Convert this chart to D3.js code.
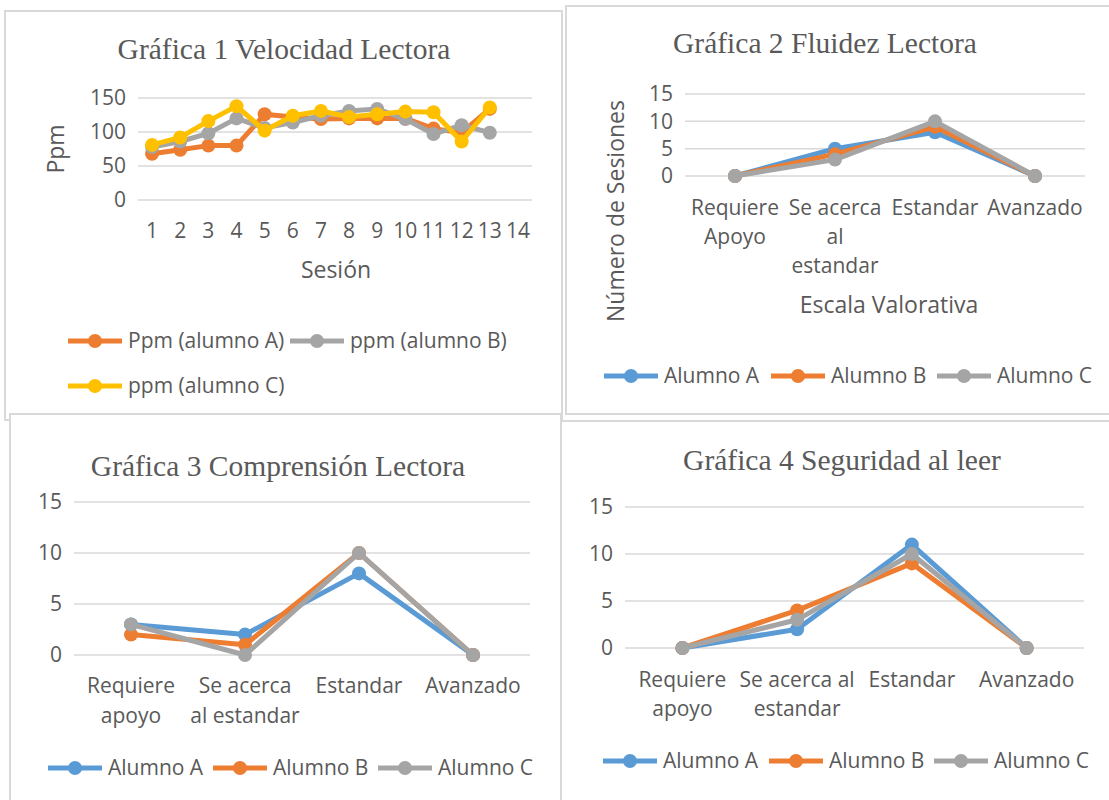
<!DOCTYPE html>
<html lang="es">
<head>
<meta charset="UTF-8">
<script src="https://cdn.jsdelivr.net/npm/d3@7"></script>
<style>
  body { margin: 0; background: #fff; }
  text { font-family: "Open Sans", "Liberation Sans", sans-serif; fill: #595959; }
  .title { font-family: "Liberation Serif", "Times New Roman", serif; }
</style>
</head>
<body>
<script>

// Gráfica 1 data
var sesiones = ["1","2","3","4","5","6","7","8","9","10","11","12","13","14"];
var ppmA = [68, 74, 80, 80, 126, 122, 119, 120, 120, 120, 105, 99, 134];
var ppmB = [78, 86, 98, 120, 106, 114, 124, 131, 134, 119, 97, 110, 99];
var ppmC = [81, 92, 116, 138, 102, 124, 131, 122, 126, 130, 129, 86, 136];
var g1Ticks = [0, 50, 100, 150];

// Gráfica 2 data
var escala2 = [["Requiere", "Apoyo"], ["Se acerca", "al", "estandar"], ["Estandar"], ["Avanzado"]];
var fluidezA = [0, 5, 8, 0];
var fluidezB = [0, 4, 9, 0];
var fluidezC = [0, 3, 10, 0];

// Gráfica 3 data
var escala3 = [["Requiere", "apoyo"], ["Se acerca", "al estandar"], ["Estandar"], ["Avanzado"]];
var comprensionA = [3, 2, 8, 0];
var comprensionB = [2, 1, 10, 0];
var comprensionC = [3, 0, 10, 0];

// Gráfica 4 data
var escala4 = [["Requiere", "apoyo"], ["Se acerca al", "estandar"], ["Estandar"], ["Avanzado"]];
var seguridadA = [0, 2, 11, 0];
var seguridadB = [0, 4, 9, 0];
var seguridadC = [0, 3, 10, 0];
var escalaTicks = [0, 5, 10, 15];

var colors = { A: "#5B9BD5", B: "#ED7D31", C: "#A5A5A5", Y: "#FFC000" };

var svg = d3.select("body").append("svg")
    .attr("width", 1109)
    .attr("height", 800);

svg.append("rect").attr("width", 1109).attr("height", 800).attr("fill", "#fff");

function box(x, y, w, h) {
    svg.append("rect")
        .attr("x", x).attr("y", y)
        .attr("width", w).attr("height", h)
        .attr("fill", "#fff")
        .attr("stroke", "#d9d9d9")
        .attr("stroke-width", 2);
}

function drawChart(opt) {
    var g = svg.append("g");

    var x = d3.scaleBand()
        .domain(d3.range(opt.categories.length))
        .range([opt.left, opt.right]);

    var y = d3.scaleLinear()
        .domain([0, opt.ticks[opt.ticks.length - 1]])
        .range([opt.bottom, opt.top]);

    g.append("text")
        .attr("class", "title")
        .attr("x", opt.titleX).attr("y", opt.titleY)
        .attr("text-anchor", "middle")
        .attr("font-size", 29.5)
        .text(opt.title);

    // grid
    g.selectAll(".grid")
        .data(opt.ticks)
        .enter().append("line")
        .attr("x1", opt.left).attr("x2", opt.right)
        .attr("y1", function (d) { return y(d); })
        .attr("y2", function (d) { return y(d); })
        .attr("stroke", "#d9d9d9")
        .attr("stroke-width", 1.5);

    var yAxis = d3.axisLeft(y).tickValues(opt.ticks).tickSize(0).tickPadding(12);
    var ya = g.append("g").attr("transform", "translate(" + opt.left + ",0)").call(yAxis);
    ya.select(".domain").remove();
    ya.selectAll("text").attr("font-size", 21).attr("fill", "#595959")
        .attr("font-family", "'Open Sans', sans-serif");

    // category labels
    var cat = g.selectAll(".cat")
        .data(opt.categories)
        .enter().append("text")
        .attr("text-anchor", "middle")
        .attr("font-size", 21)
        .attr("x", function (d, i) { return x(i) + x.bandwidth() / 2; })
        .attr("y", opt.bottom + opt.catOffset);
    cat.each(function (d) {
        var t = d3.select(this);
        [].concat(d).forEach(function (line, j) {
            t.append("tspan")
                .attr("x", t.attr("x"))
                .attr("dy", j === 0 ? 0 : opt.lineH)
                .text(line);
        });
    });

    if (opt.yTitle) {
        g.append("text")
            .attr("transform", "translate(" + opt.yTitle.x + "," + opt.yTitle.y + ") rotate(-90)")
            .attr("text-anchor", "middle")
            .attr("font-size", 23)
            .text(opt.yTitle.text);
    }
    if (opt.xTitle) {
        g.append("text")
            .attr("x", opt.xTitle.x).attr("y", opt.xTitle.y)
            .attr("text-anchor", "middle")
            .attr("font-size", 23)
            .text(opt.xTitle.text);
    }

    var line = d3.line()
        .x(function (d, i) { return x(i) + x.bandwidth() / 2; })
        .y(function (d) { return y(d); });

    opt.series.forEach(function (s) {
        g.append("path")
            .datum(s.values)
            .attr("d", line)
            .attr("fill", "none")
            .attr("stroke", s.color)
            .attr("stroke-width", 5)
            .attr("stroke-linejoin", "round");
        g.selectAll(null)
            .data(s.values)
            .enter().append("circle")
            .attr("cx", function (d, i) { return x(i) + x.bandwidth() / 2; })
            .attr("cy", function (d) { return y(d); })
            .attr("r", 7)
            .attr("fill", s.color);
    });

    // legend
    opt.series.forEach(function (s, i) {
        var pos = opt.legend[i];
        var lg = g.append("g").attr("transform", "translate(" + pos[0] + "," + pos[1] + ")");
        lg.append("line")
            .attr("x1", 0).attr("x2", 54)
            .attr("stroke", s.color).attr("stroke-width", 5);
        lg.append("circle").attr("cx", 27).attr("r", 7).attr("fill", s.color);
        lg.append("text")
            .attr("x", 60).attr("dy", "0.35em")
            .attr("font-size", 21)
            .text(s.name);
    });
}

box(5, 11, 557, 409);
box(566, 6, 560, 408);
box(10, 414, 551, 400);
box(561, 421, 560, 400);

drawChart({
    title: "Gráfica 1 Velocidad Lectora", titleX: 284, titleY: 59,
    categories: sesiones, ticks: g1Ticks,
    left: 138, right: 532, top: 98, bottom: 200,
    catOffset: 38, lineH: 29,
    yTitle: { text: "Ppm", x: 64, y: 149 },
    xTitle: { text: "Sesión", x: 336, y: 278 },
    series: [
        { name: "Ppm (alumno A)", values: ppmA, color: colors.B },
        { name: "ppm (alumno B)", values: ppmB, color: colors.C },
        { name: "ppm (alumno C)", values: ppmC, color: colors.Y }
    ],
    legend: [[68, 341], [290, 341], [68, 386]]
});

drawChart({
    title: "Gráfica 2 Fluidez Lectora", titleX: 825, titleY: 53,
    categories: escala2, ticks: escalaTicks,
    left: 685, right: 1085, top: 94, bottom: 176,
    catOffset: 39, lineH: 29,
    yTitle: { text: "Número de Sesiones", x: 624, y: 211 },
    xTitle: { text: "Escala Valorativa", x: 889, y: 313 },
    series: [
        { name: "Alumno A", values: fluidezA, color: colors.A },
        { name: "Alumno B", values: fluidezB, color: colors.B },
        { name: "Alumno C", values: fluidezC, color: colors.C }
    ],
    legend: [[604, 376], [771, 376], [937, 376]]
});

drawChart({
    title: "Gráfica 3 Comprensión Lectora", titleX: 278, titleY: 476,
    categories: escala3, ticks: escalaTicks,
    left: 74, right: 530, top: 502, bottom: 655,
    catOffset: 38, lineH: 30,
    series: [
        { name: "Alumno A", values: comprensionA, color: colors.A },
        { name: "Alumno B", values: comprensionB, color: colors.B },
        { name: "Alumno C", values: comprensionC, color: colors.C }
    ],
    legend: [[48, 768], [213, 768], [378, 768]]
});

drawChart({
    title: "Gráfica 4 Seguridad al leer", titleX: 842, titleY: 470,
    categories: escala4, ticks: escalaTicks,
    left: 625, right: 1084, top: 507, bottom: 648,
    catOffset: 39, lineH: 29,
    series: [
        { name: "Alumno A", values: seguridadA, color: colors.A },
        { name: "Alumno B", values: seguridadB, color: colors.B },
        { name: "Alumno C", values: seguridadC, color: colors.C }
    ],
    legend: [[603, 761], [769, 761], [934, 761]]
});

</script>
</body>
</html>
